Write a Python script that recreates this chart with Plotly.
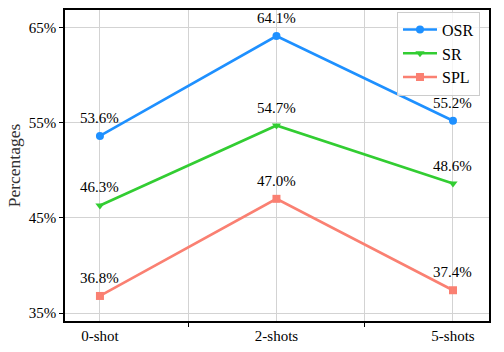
import plotly.graph_objects as go

categories = ["0-shot", "2-shots", "5-shots"]
osr = [53.6, 64.1, 55.2]
sr = [46.3, 54.7, 48.6]
spl = [36.8, 47.0, 37.4]
y_ticks = [35, 45, 55, 65]
y_tick_labels = ["35%", "45%", "55%", "65%"]

series = [
    ("OSR", osr, "#1E90FF", "circle"),
    ("SR", sr, "#32CD32", "triangle-down"),
    ("SPL", spl, "#FA8072", "square"),
]

FONT = "Liberation Serif, Times New Roman, serif"
xpos = list(range(len(categories)))

fig = go.Figure()
annotations = []
for name, vals, color, sym in series:
    fig.add_trace(go.Scatter(
        x=xpos, y=vals, name=name, mode="lines+markers",
        line=dict(color=color, width=2.6),
        marker=dict(color=color, symbol=sym, size=8),
    ))
    for xi, v in zip(xpos, vals):
        annotations.append(dict(
            x=xi, y=v, text=f"{v:.1f}%", showarrow=False,
            yshift=18, font=dict(family=FONT, size=15, color="black"),
        ))

fig.update_layout(
    width=504, height=352,
    margin=dict(l=65, r=15, t=8, b=29),
    paper_bgcolor="white", plot_bgcolor="white",
    font=dict(family=FONT, size=15, color="black"),
    annotations=annotations,
    legend=dict(
        x=0.783, y=0.995, xanchor="left", yanchor="top",
        bgcolor="rgba(255,255,255,0.8)", bordercolor="#cccccc", borderwidth=1,
        font=dict(family=FONT, size=16, color="black"),
        itemwidth=34, tracegroupgap=0,
    ),
    showlegend=True,
)

fig.update_xaxes(
    range=[-0.198, 2.204],
    tickvals=xpos, ticktext=categories,
    ticks="", showgrid=True, gridcolor="#d3d3d3", gridwidth=1,
    minor=dict(tickvals=[0.5, 1.5], ticks="outside", ticklen=4, tickcolor="black",
               showgrid=True, gridcolor="#d3d3d3", gridwidth=1),
    showline=True, linecolor="black", linewidth=1.5, mirror=True,
    zeroline=False, tickfont=dict(family=FONT, size=15, color="black"),
)
fig.update_yaxes(
    range=[34.17, 66.83],
    tickvals=y_ticks, ticktext=y_tick_labels,
    ticks="outside", ticklen=4, tickcolor="black",
    showgrid=True, gridcolor="#d3d3d3", gridwidth=1,
    showline=True, linecolor="black", linewidth=1.5, mirror=True,
    zeroline=False, tickfont=dict(family=FONT, size=15, color="black"),
    title=dict(text="Percentages", font=dict(family=FONT, size=17.5, color="#333333"), standoff=4),
)

fig.write_html("out.html")
